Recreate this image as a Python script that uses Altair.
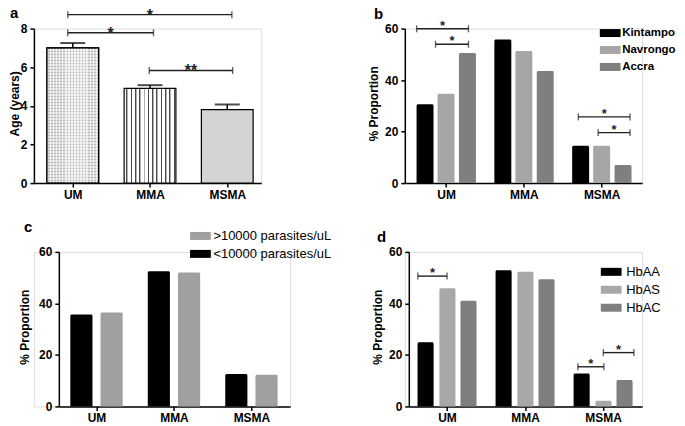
import json
import altair as alt
import pandas as pd

# ---------------- data ----------------
categories = ["UM", "MMA", "MSMA"]

# panel a: age (years), mean and error
age_mean = [7.0, 4.9, 3.8]
age_err = [0.25, 0.17, 0.27]

# panel b: % proportion by site
site_names = ["Kintampo", "Navrongo", "Accra"]
site_kintampo = [30.6, 55.8, 14.5]
site_navrongo = [34.7, 51.3, 14.5]
site_accra = [50.5, 43.5, 7.0]

# panel c: % proportion by parasite density
density_names = ["<10000 parasites/uL", ">10000 parasites/uL"]
density_low = [35.7, 52.5, 12.6]
density_high = [36.5, 52.0, 12.3]

# panel d: % proportion by haemoglobin genotype
hb_names = ["HbAA", "HbAS", "HbAC"]
hb_aa = [24.9, 52.9, 12.8]
hb_as = [45.9, 52.3, 2.2]
hb_ac = [41.0, 49.4, 10.3]

# significance brackets (ends in category units, height in axis units)
brackets_a = {"x1": [-0.065, -0.065, 0.99], "x2": [2.06, 1.045, 2.07],
              "y": [8.72, 7.78, 5.83], "label": ["*", "*", "**"]}
brackets_b = {"x1": [-0.378, -0.135, 1.70, 1.955], "x2": [0.288, 0.288, 2.365, 2.365],
              "y": [59.9, 53.9, 25.7, 19.6], "label": ["*", "*", "*", "*"]}
brackets_d = {"x1": [-0.374, 1.677, 2.003], "x2": [0.0, 2.01, 2.395],
              "y": [50.6, 15.4, 20.9], "label": ["*", "*", "*"]}

# ---------------- styling helpers ----------------
FONT = "Liberation Sans"
LABEL_EXPR = json.dumps(categories) + "[datum.value]"


def x_axis():
    return alt.Axis(values=[0, 1, 2], labelExpr=LABEL_EXPR, title=None, grid=False,
                    domainColor="black", domainWidth=1.5, tickColor="black", tickWidth=1.5,
                    tickSize=4, labelFont=FONT, labelFontSize=12, labelFontWeight="bold",
                    labelColor="black", labelPadding=2, labelFlush=False, labelOverlap=False)


def y_axis(title, values, tx, shift):
    return alt.Axis(values=values, title=title, titleX=tx, titleY=75, titleBaseline="middle",
                    titleFont=FONT, titleFontSize=12, titleFontWeight="bold", titleColor="black",
                    grid=False, domainColor="black", domainWidth=1.5, tickColor="black",
                    tickWidth=1.5, tickSize=4, labelFont=FONT, labelFontSize=12,
                    labelFontWeight="bold", labelColor="black", labelPadding=3,
                    labelFlush=False, offset=-shift)


def make_enc(xdom, width, shift, ydom, yvals, ytitle, tx):
    def xe(field):
        return alt.X(f"{field}:Q",
                     scale=alt.Scale(domain=xdom, nice=False, zero=False, range=[shift, width]),
                     axis=x_axis())

    def ye(field):
        return alt.Y(f"{field}:Q", scale=alt.Scale(domain=ydom, nice=False),
                     axis=y_axis(ytitle, yvals, tx, shift))
    return xe, ye


def bracket_layers(br, xe, ye, star_size, star_dy):
    bdf = pd.DataFrame(br)
    rule = alt.Chart(bdf).mark_rule(color="#222222", strokeWidth=1.4).encode(
        x=xe("x1"), x2="x2", y=ye("y"))
    cap_l = alt.Chart(bdf).mark_tick(orient="vertical", size=7, thickness=1.4,
                                     color="#222222").encode(x=xe("x1"), y=ye("y"))
    cap_r = alt.Chart(bdf).mark_tick(orient="vertical", size=7, thickness=1.4,
                                     color="#222222").encode(x=xe("x2"), y=ye("y"))
    stars = alt.Chart(bdf).transform_calculate(xm="(datum.x1 + datum.x2) / 2").mark_text(
        font=FONT, fontSize=star_size, fontWeight="bold", color="#222222",
        baseline="alphabetic", dy=star_dy).encode(x=xe("xm"), y=ye("y"), text="label:N")
    return [rule, cap_l, cap_r, stars]


def letter_layer(letter, lx, ly):
    return alt.Chart(pd.DataFrame({"t": [letter]})).mark_text(
        font=FONT, fontSize=15, fontWeight="bold", color="black", align="left",
        baseline="alphabetic").encode(x=alt.value(lx), y=alt.value(ly), text="t:N")


def grouped_df(series_names, series_values, offsets, half):
    rows = []
    for si, name in enumerate(series_names):
        for ci, cat in enumerate(categories):
            c = ci + offsets[si]
            rows.append({"series": name, "category": cat, "value": series_values[si][ci],
                         "base": 0.0, "x1": c - half, "x2": c + half})
    return pd.DataFrame(rows)


SYMBOL = "M-1.3,-0.5L1.3,-0.5L1.3,0.5L-1.3,0.5Z"


def grouped_panel(series_names, series_values, offsets, half, colors, legend_order,
                  legend_xy, legend_bold, legend_size, label_gap, xdom, width, shift, tx,
                  letter, letter_xy, brackets=None):
    xe, ye = make_enc(xdom, width, shift, [0, 60], [0, 20, 40, 60], "% Proportion", tx)
    df = grouped_df(series_names, series_values, offsets, half)
    color_map = dict(zip(series_names, colors))
    legend = alt.Legend(title=None, orient="none", legendX=legend_xy[0], legendY=legend_xy[1],
                        symbolType=SYMBOL, symbolSize=256, symbolStrokeWidth=0,
                        labelFont=FONT, labelFontSize=legend_size,
                        labelFontWeight="bold" if legend_bold else "normal",
                        labelColor="black", labelOffset=label_gap, rowPadding=3, padding=0)
    bars = alt.Chart(df).mark_bar(cornerRadiusTopLeft=1.5, cornerRadiusTopRight=1.5).encode(
        x=xe("x1"), x2="x2", y=ye("value"), y2="base",
        color=alt.Color("series:N", scale=alt.Scale(domain=legend_order,
                                                    range=[color_map[n] for n in legend_order]),
                        legend=legend))
    layers = [bars]
    if brackets is not None:
        layers += bracket_layers(brackets, xe, ye, 13, 1)
    layers.append(letter_layer(letter, *letter_xy))
    return alt.layer(*layers).properties(width=width, height=155)


# ---------------- panel a ----------------
xa, ya = make_enc([-0.503, 2.44], 228, 0, [0, 8], [0, 2, 4, 6, 8], "Age (years)", -19.5)
HALF_A = 0.335
df_a = pd.DataFrame({"category": categories, "mean": age_mean,
                     "top": [m + e for m, e in zip(age_mean, age_err)]})
df_a["base"] = 0.0
df_a["xc"] = range(len(categories))
df_a["x1"] = df_a["xc"] - HALF_A
df_a["x2"] = df_a["xc"] + HALF_A


def hard_stops(n, parts):
    stops = []
    for k in range(n):
        for (a, b, col) in parts:
            stops.append({"offset": (k + a) / n, "color": col})
            stops.append({"offset": (k + b) / n, "color": col})
    return stops


rows_fill = {"gradient": "linear", "x1": 0, "x2": 0, "y1": 0, "y2": 1,
             "stops": hard_stops(45, [(0, 0.4, "#b9b9b9"), (0.4, 1, "#dedede")])}
cols_fill = {"gradient": "linear", "x1": 0, "x2": 1, "y1": 0, "y2": 0,
             "stops": hard_stops(17, [(0, 0.45, "rgba(255,255,255,0.65)"),
                                      (0.45, 1, "rgba(255,255,255,0)")])}
stripe_fill = {"gradient": "linear", "x1": 0, "x2": 1, "y1": 0, "y2": 0,
               "stops": hard_stops(12, [(0, 0.5, "#ffffff"), (0.5, 0.72, "#4a4a4a"),
                                        (0.72, 0.88, "#b0b0b0"), (0.88, 1, "#ffffff")])}


def a_bar(cat, fill, stroke=True):
    kw = {"fill": fill}
    if stroke:
        kw.update(stroke="black", strokeWidth=1.2)
    return alt.Chart(df_a).transform_filter(alt.datum.category == cat).mark_bar(**kw).encode(
        x=xa("x1"), x2="x2", y=ya("mean"), y2="base")


err_line = alt.Chart(df_a).mark_rule(color="black", strokeWidth=1.5).encode(
    x=xa("xc"), y=ya("mean"), y2="top")
err_cap = alt.Chart(df_a).mark_tick(orient="horizontal", size=25, thickness=2,
                                    color="black").encode(x=xa("xc"), y=ya("top"))

panel_a = alt.layer(
    a_bar("UM", rows_fill), a_bar("UM", cols_fill, stroke=False), a_bar("UM", "transparent"),
    a_bar("MMA", stripe_fill), a_bar("MSMA", "#d4d4d4"),
    err_line, err_cap,
    *bracket_layers(brackets_a, xa, ya, 16, 6),
    letter_layer("a", -24, -11),
).properties(width=228, height=155)

# ---------------- panels b, c, d ----------------
panel_b = grouped_panel(site_names, [site_kintampo, site_navrongo, site_accra],
                        [-0.27, 0.0, 0.275], 0.109, ["#000000", "#a6a6a6", "#7f7f7f"],
                        site_names, (198, -3.5), True, 11.5, 4, [-0.53, 2.52], 238, 0, -31.5,
                        "b", (-31, -10), brackets_b)

panel_c = grouped_panel(density_names, [density_low, density_high],
                        [-0.195, 0.195], 0.143, ["#000000", "#a0a0a0"],
                        [density_names[1], density_names[0]], (159, -24), False, 13, 5,
                        [-0.486, 2.5], 257, 25, -34, "c", (-10, -20))

panel_d = grouped_panel(hb_names, [hb_aa, hb_as, hb_ac],
                        [-0.275, 0.005, 0.275], 0.103, ["#000000", "#a8a8a8", "#7f7f7f"],
                        hb_names, (199, 12), False, 13, 7, [-0.49, 2.5], 238, 4, -31,
                        "d", (-28, -10), brackets_d)

chart = alt.concat(
    panel_a, panel_b, panel_c, panel_d,
    columns=2, bounds="flush",
    spacing=alt.RowColnumber(row=69, column=115),
).resolve_scale(
    color="independent", x="independent", y="independent"
).properties(
    padding={"top": -4, "left": 0, "right": 0, "bottom": 0}, background="white"
).configure_view(stroke=None).configure(font=FONT)

chart.save("out.html", embed_options={"renderer": "svg", "actions": False})
